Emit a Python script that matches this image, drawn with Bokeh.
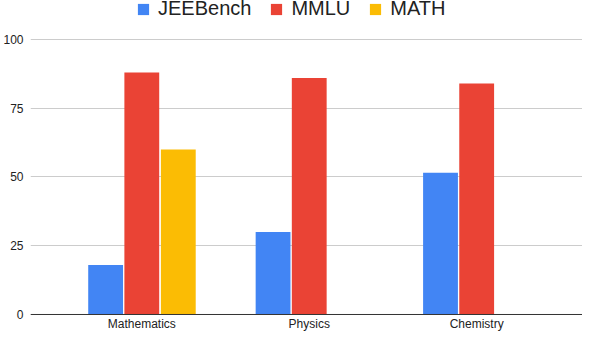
from bokeh.plotting import figure
from bokeh.models import (ColumnDataSource, Range1d, FixedTicker, Legend, LegendItem, Span)
from bokeh.embed import file_html
from bokeh.resources import INLINE

# ---- data ----
categories = ["Mathematics", "Physics", "Chemistry"]
series_names = ["JEEBench", "MMLU", "MATH"]
jeebench = [18, 30, 51.5]
mmlu = [88, 86, 84]
math_scores = [60, None, None]
y_ticks = [0, 25, 50, 75, 100]

colors = ["#4285F4", "#EA4335", "#FBBC04"]
FONT = "Liberation Sans"

FRAME_H = 334
Y_BOTTOM, Y_TOP = -7.273, 114.18
px_per_unit = FRAME_H / (Y_TOP - Y_BOTTOM)

p = figure(width=582, height=334, output_backend="svg", toolbar_location=None,
           x_range=Range1d(-0.6647, 2.632), y_range=Range1d(Y_BOTTOM, Y_TOP))
p.min_border_left = 0
p.min_border_right = 0
p.min_border_top = 0
p.min_border_bottom = 0
p.outline_line_color = None
p.background_fill_color = "white"
p.border_fill_color = "white"

base_x = list(range(len(categories)))
offsets = [-0.216, 0.0, 0.218]
all_series = [jeebench, mmlu, math_scores]
items = []
for name, vals, off, col in zip(series_names, all_series, offsets, colors):
    xs, tops = [], []
    for bx, v in zip(base_x, vals):
        if v is None:
            continue
        xs.append(bx + off)
        tops.append(v)
    src = ColumnDataSource(dict(x=xs, top=tops))
    r = p.vbar(x="x", top="top", bottom=0, width=0.208, source=src,
               fill_color=col, line_color=None)
    items.append(LegendItem(label=name, renderers=[r]))

# y axis
p.yaxis.ticker = FixedTicker(ticks=y_ticks)
p.yaxis.axis_line_color = None
p.yaxis.major_tick_out = 0
p.yaxis.major_tick_in = 0
p.yaxis.minor_tick_out = 0
p.yaxis.minor_tick_in = 0
p.yaxis.major_tick_line_color = None
p.yaxis.minor_tick_line_color = None
p.yaxis.major_label_text_font = FONT
p.yaxis.major_label_text_font_size = "12px"
p.yaxis.major_label_text_color = "#222222"
p.yaxis.major_label_standoff = 7

# x axis: baseline + category labels placed via the data scale
p.xaxis.visible = False
p.xgrid.grid_line_color = None
p.ygrid.ticker = FixedTicker(ticks=y_ticks)
p.ygrid.grid_line_color = "#cccccc"
p.ygrid.grid_line_width = 1
p.add_layout(Span(location=0, dimension="width", line_color="#333333", line_width=1))

label_src = ColumnDataSource(dict(x=base_x, y=[-3 / px_per_unit] * len(base_x), text=categories))
p.text(x="x", y="y", text="text", source=label_src, text_align="center",
       text_baseline="top", text_font_size="12px", text_color="#222222",
       text_font={"value": FONT})

legend = Legend(items=items, orientation="horizontal", location=(106, FRAME_H - 20))
legend.label_text_font = FONT
legend.label_text_font_size = "20px"
legend.label_text_color = "#222222"
legend.glyph_width = 14
legend.glyph_height = 14
legend.label_standoff = 8
legend.spacing = 18
legend.padding = 0
legend.margin = 0
legend.border_line_color = None
legend.background_fill_alpha = 0
p.add_layout(legend, "center")

open("out.html", "w").write(file_html(p, INLINE))
